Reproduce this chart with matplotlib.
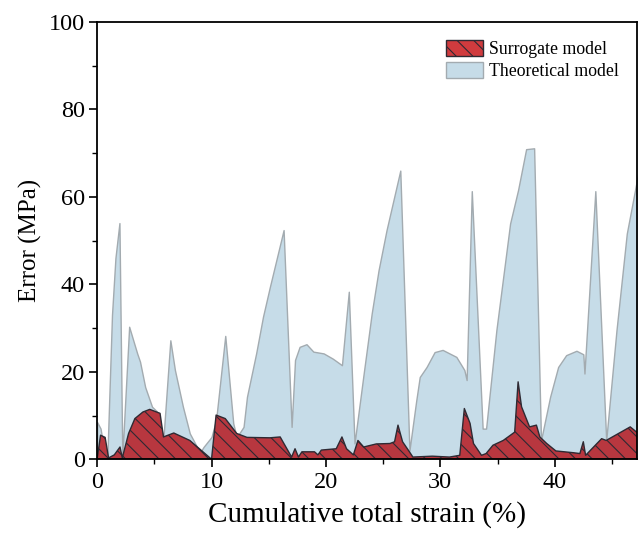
import matplotlib
matplotlib.use("Agg")
import matplotlib.pyplot as plt
import matplotlib.patches as mpatches
from matplotlib.ticker import MultipleLocator

plt.rcParams['font.family'] = ['Liberation Serif', 'DejaVu Serif']
plt.rcParams['hatch.linewidth'] = 0.8

# Data
theory_x = [0, 0.3, 0.7, 0.9, 1.3, 1.6, 1.95, 2.2, 2.8, 3.5, 3.75, 4.2, 4.8, 5.2, 5.8,
            6.4, 6.8, 7.5, 8.1, 9.0, 9.3, 10.0, 10.4, 11.2, 11.9, 12.2, 12.8, 13.1,
            13.9, 14.5, 15.1, 16.3, 17.0, 17.3, 17.7, 18.3, 18.9, 19.8, 20.6, 21.4,
            22.0, 22.5, 23.3, 24.0, 24.6, 25.3, 26.5, 27.3, 27.9, 28.2, 28.8, 29.5,
            30.2, 31.4, 32.1, 32.3, 32.75, 33.7, 34.0, 34.9, 36.1, 36.8, 37.5, 38.2,
            38.8, 39.6, 40.3, 41.0, 41.9, 42.5, 42.6, 43.55, 44.5, 45.4, 46.3, 47.3]
theory_y = [8.5, 7, 0.5, 1, 33, 46, 54, 0.5, 30.3, 24.2, 22.3, 16.5, 12, 11, 5,
            27.2, 20.4, 12, 5.9, 1.5, 2.8, 5.1, 9, 28.2, 8.2, 5, 7.4, 14.3,
            24.2, 32.6, 39.4, 52.4, 7.4, 22.7, 25.7, 26.3, 24.6, 24.2, 23.0, 21.5,
            38.3, 3.6, 19.6, 33.3, 43.2, 52.4, 66, 2, 13.5, 18.8, 21.1, 24.5,
            25.0, 23.4, 20.4, 18.1, 61.3, 7.0, 7.0, 29.5, 53.9, 61.6, 70.9, 71.1,
            4.3, 14.3, 21.1, 23.8, 24.8, 24.0, 19.6, 61.3, 4.3, 29.5, 51.6, 65.4]

surr_x = [0, 0.3, 0.7, 1.0, 1.5, 2.0, 2.2, 2.75, 3.3, 4.0, 4.6, 5.5, 5.8, 6.7, 8.1,
          10.0, 10.4, 11.2, 12.2, 13.1, 15.1, 16.0, 17.0, 17.3, 17.6, 17.9, 19.0,
          19.3, 19.6, 20.9, 21.4, 21.8, 22.4, 22.8, 23.3, 24.4, 25.6, 26.0, 26.3,
          26.7, 27.3, 27.6, 29.3, 30.8, 31.7, 32.1, 32.6, 32.9, 33.6, 34.0, 34.6,
          35.5, 36.5, 36.8, 37.1, 37.8, 38.4, 38.7, 39.3, 40.1, 41.6, 42.2, 42.5,
          42.7, 44.1, 44.5, 46.6, 47.3]
surr_y = [0, 5.5, 5, 0.3, 1, 2.8, 0.3, 5.9, 9.3, 10.8, 11.4, 10.5, 5.1, 6.0, 4.3,
          0, 10.1, 9.3, 5.9, 5.0, 4.9, 5.1, 0.5, 2.4, 0.5, 1.7, 1.7,
          1.0, 2.1, 2.4, 5.1, 2.4, 1.0, 4.3, 2.8, 3.5, 3.6, 4.0, 7.8,
          4.0, 1.7, 0.5, 0.7, 0.5, 0.9, 11.6, 8.2, 3.6, 0.9, 1.3, 3.2,
          4.3, 6.2, 17.7, 12.0, 7.4, 7.8, 5.1, 3.6, 1.9, 1.5, 1.3, 4.0,
          0.9, 4.7, 4.3, 7.4, 5.9]

blue = '#c6dce8'
red = '#b8373f'

fig = plt.figure(figsize=(6.39, 5.34), dpi=100)
ax = fig.add_axes([0.152, 0.140, 0.845, 0.819])

ax.fill_between(theory_x, 0, theory_y, facecolor=blue, edgecolor='#a3abb0',
                linewidth=1.0, zorder=1)
ax.fill_between(surr_x, 0, surr_y, facecolor=red, edgecolor='#2e2a33',
                hatch='\\\\', linewidth=1.0, zorder=2)

ax.set_xlim(0, 47.2)
ax.set_ylim(0, 100)
ax.xaxis.set_major_locator(MultipleLocator(10))
ax.xaxis.set_minor_locator(MultipleLocator(5))
ax.yaxis.set_major_locator(MultipleLocator(20))
ax.yaxis.set_minor_locator(MultipleLocator(10))
ax.tick_params(which='major', direction='out', length=6, width=1.2, labelsize=17.5, pad=3)
ax.tick_params(which='minor', direction='out', length=3.5, width=1.0)
for s in ax.spines.values():
    s.set_linewidth(1.3)

ax.set_xlabel('Cumulative total strain (%)', fontsize=21, labelpad=6)
ax.set_ylabel('Error (MPa)', fontsize=18, labelpad=5)

handles = [
    mpatches.Patch(facecolor='#d03b3e', edgecolor='#2e2a33', hatch='\\\\', label='Surrogate model'),
    mpatches.Patch(facecolor=blue, edgecolor='#a3abb0', label='Theoretical model'),
]
ax.legend(handles=handles, loc='upper right', bbox_to_anchor=(0.995, 0.995),
          frameon=False, fontsize=12.8, handlelength=2.1, handleheight=1.0,
          handletextpad=0.3, labelspacing=0.2)

fig.savefig('out.png', dpi=100)
